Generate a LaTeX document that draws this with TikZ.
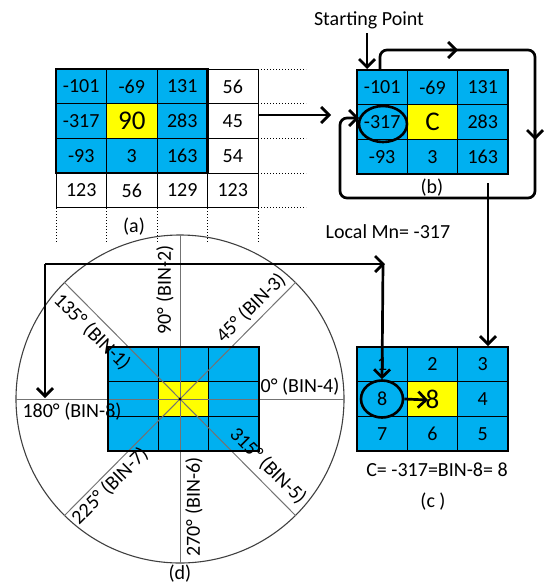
\documentclass[tikz,border=0pt]{standalone}
\usepackage{fontspec}
\setmainfont{Carlito}
\usetikzlibrary{matrix,arrows.meta,shapes.geometric}
\definecolor{cblue}{RGB}{0,176,240}
\definecolor{cyel}{RGB}{255,255,0}
\newcommand{\fnt}{\fontsize{20}{24}\selectfont}
\newcommand{\bigf}{\fontsize{27}{30}\selectfont}
\begin{document}
\begin{tikzpicture}[x=1pt,y=-1pt,
  cell/.style={draw=none, minimum width=50.3pt, minimum height=34.7pt, inner sep=0pt, outer sep=0pt, font=\fnt, fill=cblue, anchor=center},
  wc/.style={fill=white},
  yc/.style={fill=cyel},
  grid/.style={matrix of nodes, nodes={cell}, nodes in empty cells, column sep=0pt, row sep=0pt, inner sep=0pt, outer sep=0pt, anchor=north west},
  thin line/.style={draw=black, line width=1pt},
  border/.style={draw=black, line width=2.6pt},
  arr/.style={line width=2.7pt, -{Straight Barb[length=8pt,width=16pt]}},
  spoke/.style={draw=black!55, line width=1pt},
  dots/.style={draw=black, line width=1pt, dotted},
  lbl/.style={font=\fnt, inner sep=0pt}]
\useasboundingbox (0,0) rectangle (549,584);

% ---------- (a) ----------
\matrix (a) [grid, nodes={minimum width=50.5pt}] at (56,69) {
  -101 & -69 & 131 & |[wc]| 56 \\
  -317 & |[yc,font=\bigf]| 90 & 283 & |[wc]| 45 \\
  -93 & 3 & 163 & |[wc]| 54 \\
  |[wc]| 123 & |[wc]| 56 & |[wc]| 129 & |[wc]| 123 \\
};
\foreach \r in {1,...,4} \foreach \c in {1,...,4}
  \draw[thin line] (a-\r-\c.north west) rectangle (a-\r-\c.south east);
\draw[border] (a-1-1.north west) rectangle (a-3-3.south east);
\foreach \yy in {69,103.7,138.4,173.1,207.8} \draw[dots] (258,\yy) -- (306,\yy);
\foreach \xx in {56,106.5,157,207.5,258} \draw[dots] (\xx,208) -- (\xx,242);
\node[lbl] (la) at (134,227) {(a)};

% ---------- (b) ----------
\matrix (b) [grid] at (357,70) {
  -101 & -69 & 131 \\
  -317 & |[yc,font=\bigf]| C & 283 \\
  -93 & 3 & 163 \\
};
\foreach \r in {1,...,3} \foreach \c in {1,...,3}
  \draw[thin line] (b-\r-\c.north west) rectangle (b-\r-\c.south east);
\draw[border] (b-1-1.north west) rectangle (b-3-3.south east);
\node[lbl] (lb) at (432,188) {(b)};
\node[lbl] (sp) at (369,20) {Starting Point};
\node[draw, ellipse, line width=2.6pt, minimum width=48pt, minimum height=36pt, inner sep=0pt] (e1) at (383,124) {};

\coordinate (aout) at (258,115);
\coordinate (bin) at (331,115);
\draw[arr] (aout) -- (bin);
\coordinate (sp1) at (367,33);
\coordinate (sp2) at (367,69);
\draw[arr] (sp1) -- (sp2);

\coordinate (l0) at (380,70);
\coordinate (l1) at (458,50);
\coordinate (l2) at (535,140);
\coordinate (l3) at (340,198);
\coordinate (l4) at (359,118);
\draw[arr, rounded corners=7pt] (l0) |- (l1);
\draw[arr, rounded corners=7pt] (450,50) -| (l2);
\draw[arr, rounded corners=7pt] (535,130) |- (l3) |- (l4);

\node[lbl] (lmn) at (388,232) {Local Mn= -317};

% ---------- (c) ----------
\matrix (c) [grid] at (357,347) {
  1 & 2 & 3 \\
  8 & |[yc,font=\bigf]| 8 & 4 \\
  7 & 6 & 5 \\
};
\foreach \r in {1,...,3} \foreach \c in {1,...,3}
  \draw[thin line] (c-\r-\c.north west) rectangle (c-\r-\c.south east);
\draw[border] (c-1-1.north west) rectangle (c-3-3.south east);
\node[draw, ellipse, line width=2.6pt, minimum width=42pt, minimum height=37pt, inner sep=0pt] (e2) at (382,399) {};
\coordinate (c8) at (428,400);
\draw[arr] (e2.east) -- (c8);
\coordinate (bdown) at (488,183);
\coordinate (cin) at (488,346);
\draw[arr] (bdown) -- (cin);
\node[lbl] (lc1) at (437,470) {C= -317=BIN-8= 8};
\node[lbl] (lc2) at (433,502) {(c )};

% ---------- (d) ----------
\coordinate (o) at (180,399);
\draw[draw=black!75, line width=1.1pt] (o) circle (164);
\matrix (d) [grid] at (108,347) {
  & & \\
  & |[yc]| & \\
  & & \\
};
\foreach \r in {1,...,3} \foreach \c in {1,...,3}
  \draw[thin line] (d-\r-\c.north west) rectangle (d-\r-\c.south east);
\draw[spoke] (16,399) -- (344,399);
\draw[spoke] (180,235) -- (180,563);
\draw[spoke] (64.03,282.03) -- (295.97,515.97);
\draw[spoke] (64.03,515.97) -- (295.97,282.03);
\draw[border] (d-1-1.north west) rectangle (d-3-3.south east);
\fill (o) circle (1.6);

\node[lbl, rotate=90] (t90) at (165,290) {90° (BIN-2)};
\node[lbl, rotate=45] (t45) at (251,308) {45° (BIN-3)};
\node[lbl, rotate=-45] (t135) at (92,332) {135° (BIN-1)};
\node[lbl] (t0) at (300,387) {0° (BIN-4)};
\node[lbl] (t180) at (72,412) {180° (BIN-8)};
\node[lbl, rotate=45] (t225) at (110,486) {225° (BIN-7)};
\node[lbl, rotate=90] (t270) at (194,507) {270° (BIN-6)};
\node[lbl, rotate=-45] (t315) at (268,466) {315° (BIN-5)};
\node[lbl] (ld) at (180,574) {(d)};

% ---------- long arrow ----------
\coordinate (k0) at (45,264);
\coordinate (k1) at (385,264);
\coordinate (k2) at (383,264);
\coordinate (k3) at (45,398);
\draw[arr] (k0) -- (k1);
\draw[arr] (k2) -- (e2.north);
\draw[arr] (k0) -- (k3);
\end{tikzpicture}
\end{document}
